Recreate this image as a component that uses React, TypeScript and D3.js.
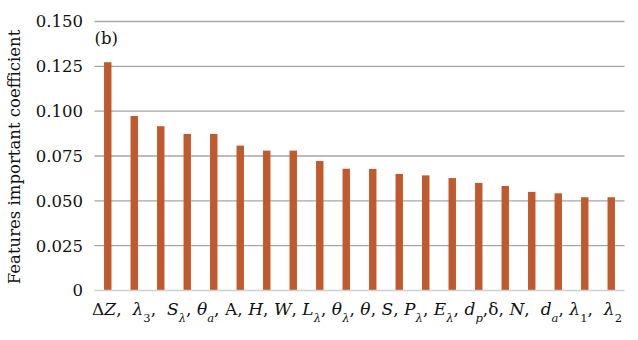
import React, { useEffect, useRef } from "react";
import * as d3 from "d3";

// feature importance values, one per bar
const coefficients = [
  0.1273, 0.0973, 0.0916, 0.0873, 0.0873, 0.0808, 0.078, 0.078, 0.0722, 0.0679,
  0.0678, 0.065, 0.0642, 0.0627, 0.06, 0.0583, 0.055, 0.0542, 0.052, 0.052,
];

const yTicks = [0, 0.025, 0.05, 0.075, 0.1, 0.125, 0.15];
const yTickLabels = ["0", "0.025", "0.050", "0.075", "0.100", "0.125", "0.150"];

// x labels: main glyph, subscript, italic flag, trailing separator
const featureLabels = [
  { main: "Δ", sub: "", it: false, sep: "" },
  { main: "Z", sub: "", it: true, sep: ",  " },
  { main: "λ", sub: "3", it: true, subIt: false, sep: ",  " },
  { main: "S", sub: "λ", it: true, subIt: true, sep: ", " },
  { main: "θ", sub: "a", it: true, subIt: true, sep: ", " },
  { main: "A", sub: "", it: false, sep: ", " },
  { main: "H", sub: "", it: true, sep: ", " },
  { main: "W", sub: "", it: true, sep: ", " },
  { main: "L", sub: "λ", it: true, subIt: true, sep: ", " },
  { main: "θ", sub: "λ", it: true, subIt: true, sep: ", " },
  { main: "θ", sub: "", it: true, sep: ", " },
  { main: "S", sub: "", it: true, sep: ", " },
  { main: "P", sub: "λ", it: true, subIt: true, sep: ", " },
  { main: "E", sub: "λ", it: true, subIt: true, sep: ", " },
  { main: "d", sub: "p", it: true, subIt: true, sep: "," },
  { main: "δ", sub: "", it: false, sep: ", " },
  { main: "N", sub: "", it: true, sep: ",  " },
  { main: "d", sub: "a", it: true, subIt: true, sep: ", " },
  { main: "λ", sub: "1", it: true, subIt: false, sep: ",  " },
  { main: "λ", sub: "2", it: true, subIt: false, sep: "" },
];

const yTitle = "Features important coefficient";
const panelTag = "(b)";

export default function App() {
  const ref = useRef<SVGSVGElement | null>(null);

  useEffect(() => {
    const width = 638;
    const height = 340;
    const margin = { top: 21.5, left: 94.5, right: 13.5, bottom: 49.5 };
    const iwidth = width - margin.left - margin.right;
    const iheight = height - margin.top - margin.bottom;
    const font = "'DejaVu Serif', serif";

    const svg = d3.select(ref.current);
    svg.selectAll("*").remove();

    const g = svg
      .append("g")
      .attr("transform", `translate(${margin.left},${margin.top})`);

    const x = d3
      .scaleBand<number>()
      .domain(coefficients.map((_, i) => i))
      .range([0, iwidth])
      .paddingInner(0.72)
      .paddingOuter(0.36);

    const y = d3.scaleLinear().domain([0, 0.15]).range([iheight, 0]);

    // grid lines
    g.selectAll("line.grid")
      .data(yTicks.slice(1))
      .enter()
      .append("line")
      .attr("class", "grid")
      .attr("x1", 0)
      .attr("x2", iwidth)
      .attr("y1", (d) => y(d))
      .attr("y2", (d) => y(d))
      .attr("stroke", "#a6a6a6")
      .attr("stroke-width", 1.3);

    // y tick labels
    g.selectAll("text.ytick")
      .data(yTicks)
      .enter()
      .append("text")
      .attr("class", "ytick")
      .attr("x", -11.5)
      .attr("y", (d) => y(d))
      .attr("dy", "0.36em")
      .attr("text-anchor", "end")
      .attr("font-family", font)
      .attr("font-size", 16.5)
      .attr("fill", "#111")
      .text((_, i) => yTickLabels[i]);

    // bars
    g.selectAll("rect.bar")
      .data(coefficients)
      .enter()
      .append("rect")
      .attr("class", "bar")
      .attr("x", (_, i) => x(i)!)
      .attr("y", (d) => y(d))
      .attr("width", x.bandwidth())
      .attr("height", (d) => iheight - y(d))
      .attr("fill", "#c05a2e");

    // baseline
    g.append("line")
      .attr("x1", 0)
      .attr("x2", iwidth)
      .attr("y1", iheight)
      .attr("y2", iheight)
      .attr("stroke", "#d0d0d0")
      .attr("stroke-width", 1.3);

    // x labels as one flowing line, stretched to the axis width
    const xl = g
      .append("text")
      .attr("x", -2.5)
      .attr("y", iheight + 24.5)
      .attr("font-family", font)
      .attr("font-size", 17)
      .attr("fill", "#111")
      .attr("textLength", iwidth)
      .attr("lengthAdjust", "spacing")
      .style("white-space", "pre");

    featureLabels.forEach((f) => {
      xl.append("tspan")
        .attr("font-style", f.it ? "italic" : "normal")
        .text(f.main);
      if (f.sub) {
        xl.append("tspan")
          .attr("dy", 7)
          .attr("font-size", 11.5)
          .attr("font-style", f.subIt ? "italic" : "normal")
          .text(f.sub);
        xl.append("tspan").attr("dy", -7).text(f.sep);
      } else if (f.sep) {
        xl.append("tspan").text(f.sep);
      }
    });

    // panel tag
    g.append("text")
      .attr("x", 0)
      .attr("y", 22.5)
      .attr("font-family", font)
      .attr("font-size", 16.5)
      .attr("fill", "#111")
      .text(panelTag);

    // y title
    svg
      .append("text")
      .attr("transform", `translate(20,${margin.top + iheight / 2 + 1}) rotate(-90)`)
      .attr("text-anchor", "middle")
      .attr("font-family", font)
      .attr("font-size", 16.5)
      .attr("fill", "#111")
      .text(yTitle);
  }, []);

  return (
    <svg
      ref={ref}
      width={638}
      height={340}
      style={{ position: "absolute", left: 0, top: 0, background: "#fff" }}
    />
  );
}
